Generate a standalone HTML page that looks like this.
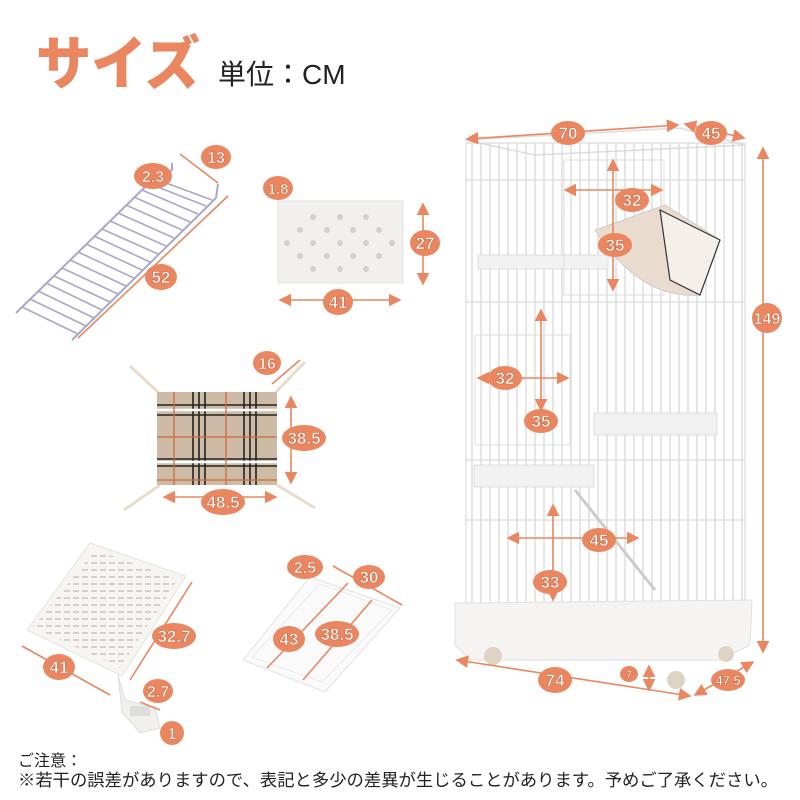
<!DOCTYPE html>
<html><head><meta charset="utf-8"><style>
html,body{margin:0;padding:0;background:#fff;width:800px;height:800px;overflow:hidden}
svg{display:block}
.l{fill:#ea8761}
.t{fill:#fff;font-family:"Liberation Sans",sans-serif;font-weight:bold;text-anchor:middle;stroke:#c96a45;stroke-width:.6}
.d{stroke:#ea8761;stroke-width:1.6;fill:none}
.w{stroke:#dcdcdc;stroke-width:1.2;fill:none}
</style></head><body>
<svg width="800" height="800" viewBox="0 0 800 800" xmlns="http://www.w3.org/2000/svg">
<defs>
<marker id="a" markerWidth="8" markerHeight="8" refX="7" refY="4" orient="auto-start-reverse"><path d="M0,0 L8,4 L0,8 Z" fill="#ea8761"/></marker>
<pattern id="vw" width="9" height="10" patternUnits="userSpaceOnUse"><line x1="4" y1="0" x2="4" y2="10" stroke="#d9d9d9" stroke-width="1.3"/></pattern>
<pattern id="slots" width="9" height="7" patternUnits="userSpaceOnUse"><rect x="1" y="2" width="6" height="2" fill="#d0ccc6"/></pattern>
</defs>

<!-- Title -->
<text x="36" y="84" textLength="164" lengthAdjust="spacingAndGlyphs" font-family="'Liberation Sans','Noto Sans CJK JP',sans-serif" font-weight="900" font-size="58" fill="#ea8761">サイズ</text>
<text x="218" y="84" font-family="'Liberation Sans','Noto Sans CJK JP',sans-serif" font-size="28" fill="#222">単位：CM</text>

<!-- Ladder -->
<g stroke="#a9a8c8" stroke-width="2" fill="none">
<line x1="16" y1="313" x2="146" y2="186"/>
<line x1="72" y1="340" x2="216" y2="198"/>
<path d="M146,186 L172,170 L172,163"/>
<path d="M216,198 L218,184"/>
</g>
<g stroke="#a9a8c8" stroke-width="1.6">
<line x1="22" y1="307" x2="78" y2="334"/><line x1="30" y1="299" x2="86" y2="326"/><line x1="38" y1="291" x2="94" y2="318"/><line x1="46" y1="283" x2="102" y2="310"/><line x1="54" y1="276" x2="110" y2="302"/><line x1="62" y1="268" x2="118" y2="294"/><line x1="70" y1="260" x2="126" y2="286"/><line x1="78" y1="252" x2="134" y2="278"/><line x1="86" y1="244" x2="142" y2="270"/><line x1="94" y1="236" x2="150" y2="262"/><line x1="102" y1="229" x2="158" y2="254"/><line x1="110" y1="221" x2="166" y2="246"/><line x1="118" y1="213" x2="174" y2="238"/><line x1="126" y1="205" x2="182" y2="230"/><line x1="134" y1="197" x2="190" y2="222"/><line x1="142" y1="190" x2="198" y2="214"/><line x1="150" y1="184" x2="206" y2="206"/><line x1="158" y1="180" x2="212" y2="200"/>
</g>
<line class="d" x1="180" y1="154" x2="218" y2="183"/>
<line class="d" x1="78" y1="338" x2="228" y2="196"/>
<ellipse class="l" cx="216" cy="157" rx="15" ry="12"/><text class="t" x="216" y="163" font-size="16">13</text>
<ellipse class="l" cx="153" cy="176" rx="19" ry="13"/><text class="t" x="153" y="182" font-size="16">2.3</text>
<ellipse class="l" cx="161" cy="277" rx="16" ry="13"/><text class="t" x="161" y="283" font-size="17">52</text>

<!-- Panel -->
<rect x="278" y="201" width="125" height="82" fill="#f1f0ee" stroke="#e3e2df"/>
<g fill="#d3d1cd">
<circle cx="313" cy="217" r="3"/><circle cx="340" cy="217" r="3"/><circle cx="366" cy="217" r="3"/>
<circle cx="300" cy="230" r="3"/><circle cx="327" cy="230" r="3"/><circle cx="353" cy="230" r="3"/><circle cx="379" cy="230" r="3"/>
<circle cx="287" cy="243" r="3"/><circle cx="313" cy="243" r="3"/><circle cx="340" cy="243" r="3"/><circle cx="366" cy="243" r="3"/><circle cx="392" cy="243" r="3"/>
<circle cx="300" cy="256" r="3"/><circle cx="327" cy="256" r="3"/><circle cx="353" cy="256" r="3"/><circle cx="379" cy="256" r="3"/>
<circle cx="313" cy="269" r="3"/><circle cx="340" cy="269" r="3"/><circle cx="366" cy="269" r="3"/>
</g>
<line class="d" x1="423" y1="204" x2="423" y2="284" marker-start="url(#a)" marker-end="url(#a)"/>
<line class="d" x1="280" y1="300" x2="400" y2="300" marker-start="url(#a)" marker-end="url(#a)"/>
<ellipse class="l" cx="278" cy="188" rx="15" ry="12"/><text class="t" x="278" y="194" font-size="15">1.8</text>
<ellipse class="l" cx="425" cy="243" rx="15" ry="13"/><text class="t" x="425" y="249" font-size="17">27</text>
<ellipse class="l" cx="338" cy="302" rx="15" ry="13"/><text class="t" x="338" y="308" font-size="17">41</text>

<!-- Hammock -->
<g stroke="#e8dccb" stroke-width="3">
<line x1="130" y1="366" x2="160" y2="394"/><line x1="305" y1="362" x2="274" y2="394"/>
<line x1="124" y1="510" x2="160" y2="485"/><line x1="315" y1="508" x2="277" y2="485"/>
</g>
<rect x="157" y="392" width="120" height="93" fill="#cdbba5"/>
<g stroke="#222" stroke-width="1.6">
<line x1="193" y1="392" x2="193" y2="485"/><line x1="199" y1="392" x2="199" y2="485"/><line x1="205" y1="392" x2="205" y2="485"/>
<line x1="244" y1="392" x2="244" y2="485"/><line x1="250" y1="392" x2="250" y2="485"/><line x1="256" y1="392" x2="256" y2="485"/>
<line x1="157" y1="405" x2="277" y2="405"/><line x1="157" y1="415" x2="277" y2="415"/>
<line x1="157" y1="459" x2="277" y2="459"/><line x1="157" y1="466" x2="277" y2="466"/>
</g>
<g stroke="#fff" stroke-width="2.5"><line x1="157" y1="410" x2="277" y2="410"/><line x1="157" y1="462" x2="277" y2="462"/></g>
<g stroke="#d0683f" stroke-width="1.3">
<line x1="174" y1="392" x2="174" y2="485"/><line x1="226" y1="392" x2="226" y2="485"/>
<line x1="157" y1="437" x2="277" y2="437"/><line x1="157" y1="480" x2="277" y2="480"/>
</g>
<line class="d" x1="272" y1="384" x2="300" y2="360"/>
<line class="d" x1="291" y1="397" x2="291" y2="483" marker-start="url(#a)" marker-end="url(#a)"/>
<line class="d" x1="164" y1="497" x2="276" y2="497" marker-start="url(#a)" marker-end="url(#a)"/>
<ellipse class="l" cx="267" cy="363" rx="14" ry="12"/><text class="t" x="267" y="369" font-size="16">16</text>
<ellipse class="l" cx="304" cy="438" rx="22" ry="13"/><text class="t" x="304" y="444" font-size="17">38.5</text>
<ellipse class="l" cx="223" cy="502" rx="22" ry="13"/><text class="t" x="223" y="508" font-size="17">48.5</text>

<!-- Grid panel -->
<polygon points="90,543 186,576 122,676 27,630" fill="#f7f5f2" stroke="#e6e3de"/>
<polygon points="95,550 178,579 120,668 33,627" fill="url(#slots)" opacity=".9"/>
<path d="M118,675 L125,700 L155,708 L160,728 L140,733 L122,712 Z" fill="#f2f0ed" stroke="#ddd"/>
<rect x="130" y="706" width="20" height="10" fill="#ddd"/>
<line class="d" x1="22" y1="646" x2="110" y2="695"/>
<line class="d" x1="130" y1="680" x2="192" y2="582"/>
<line class="d" x1="140" y1="702" x2="160" y2="710"/>
<ellipse class="l" cx="59" cy="667" rx="16" ry="13"/><text class="t" x="59" y="673" font-size="17">41</text>
<ellipse class="l" cx="174" cy="636" rx="22" ry="13"/><text class="t" x="174" y="642" font-size="17">32.7</text>
<ellipse class="l" cx="158" cy="691" rx="15" ry="12"/><text class="t" x="158" y="697" font-size="16">2.7</text>
<ellipse class="l" cx="172" cy="733" rx="12" ry="12"/><text class="t" x="172" y="739" font-size="16">1</text>

<!-- Tray -->
<polygon points="310,577 400,608 325,692 243,660" fill="#fafafa" stroke="#e2e2e2"/>
<polygon points="320,584 392,610 322,682 252,657" fill="none" stroke="#eaeaea"/>
<line class="d" x1="333" y1="566" x2="402" y2="605"/>
<line class="d" x1="267" y1="668" x2="348" y2="583"/>
<line class="d" x1="303" y1="680" x2="372" y2="600"/>
<ellipse class="l" cx="305" cy="567" rx="18" ry="12"/><text class="t" x="305" y="573" font-size="16">2.5</text>
<ellipse class="l" cx="369" cy="577" rx="16" ry="12"/><text class="t" x="369" y="583" font-size="17">30</text>
<ellipse class="l" cx="289" cy="639" rx="16" ry="13"/><text class="t" x="289" y="645" font-size="17">43</text>
<ellipse class="l" cx="337" cy="634" rx="22" ry="13"/><text class="t" x="337" y="640" font-size="17">38.5</text>

<!-- Cage -->
<polygon points="465,140 680,128 745,145 535,155" fill="none" stroke="#ddd" stroke-width="1.5"/>
<rect x="466" y="143" width="280" height="465" fill="url(#vw)"/>
<g class="w" stroke-width="1.8">
<line x1="466" y1="143" x2="466" y2="610"/><line x1="745" y1="143" x2="745" y2="610"/>
<line x1="466" y1="143" x2="745" y2="143"/>
<line x1="466" y1="180" x2="745" y2="180"/><line x1="466" y1="302" x2="745" y2="302"/>
<line x1="466" y1="460" x2="745" y2="460"/><line x1="466" y1="520" x2="745" y2="520"/>
</g>
<rect x="478" y="255" width="130" height="14" fill="#f2f2f2" stroke="#ddd"/>
<rect x="594" y="413" width="123" height="22" fill="#f2f2f2" stroke="#ddd"/>
<rect x="474" y="465" width="120" height="22" fill="#f2f2f2" stroke="#ddd"/>
<rect x="564" y="160" width="100" height="135" fill="none" stroke="#ddd"/>
<rect x="475" y="335" width="95" height="110" fill="none" stroke="#ddd"/>
<path d="M595,230 Q640,300 700,295 L720,240 L665,205 Z" fill="#e9dccf" stroke="#ccc"/>
<path d="M660,210 L720,240 L700,295 L670,280 Z" fill="#f4efe9" stroke="#333" stroke-width="1.2"/>
<line x1="575" y1="490" x2="655" y2="590" stroke="#ccc" stroke-width="3"/>
<!-- base -->
<path d="M455,603 L752,600 L750,645 L720,660 L470,660 L455,645 Z" fill="#f5f4f3" stroke="#e0e0e0"/>
<circle cx="493" cy="656" r="9" fill="#ded3c4"/><circle cx="676" cy="680" r="9" fill="#ded3c4"/><circle cx="726" cy="654" r="8" fill="#ded3c4"/>
<!-- cage dims -->
<line class="d" x1="467" y1="139" x2="678" y2="125" marker-start="url(#a)" marker-end="url(#a)"/>
<line class="d" x1="685" y1="124" x2="744" y2="138" marker-start="url(#a)" marker-end="url(#a)"/>
<line class="d" x1="763" y1="148" x2="763" y2="652" marker-start="url(#a)" marker-end="url(#a)"/>
<line class="d" x1="565" y1="190" x2="662" y2="190" marker-start="url(#a)" marker-end="url(#a)"/>
<line class="d" x1="613" y1="160" x2="613" y2="290" marker-start="url(#a)" marker-end="url(#a)"/>
<line class="d" x1="478" y1="378" x2="568" y2="378" marker-start="url(#a)" marker-end="url(#a)"/>
<line class="d" x1="541" y1="310" x2="541" y2="410" marker-start="url(#a)" marker-end="url(#a)"/>
<line class="d" x1="508" y1="538" x2="638" y2="538" marker-start="url(#a)" marker-end="url(#a)"/>
<line class="d" x1="553" y1="505" x2="553" y2="600" marker-start="url(#a)" marker-end="url(#a)"/>
<line class="d" x1="457" y1="660" x2="690" y2="696" marker-start="url(#a)" marker-end="url(#a)"/>
<line class="d" x1="649" y1="666" x2="649" y2="690" marker-start="url(#a)" marker-end="url(#a)"/>
<line class="d" x1="695" y1="695" x2="753" y2="662" marker-start="url(#a)" marker-end="url(#a)"/>
<ellipse class="l" cx="568" cy="133" rx="17" ry="12"/><text class="t" x="568" y="139" font-size="17">70</text>
<ellipse class="l" cx="711" cy="133" rx="16" ry="12"/><text class="t" x="711" y="139" font-size="17">45</text>
<ellipse class="l" cx="767" cy="318" rx="15" ry="15"/><text class="t" x="767" y="324" font-size="16">149</text>
<ellipse class="l" cx="632" cy="200" rx="17" ry="12"/><text class="t" x="632" y="206" font-size="17">32</text>
<ellipse class="l" cx="615" cy="245" rx="17" ry="12"/><text class="t" x="615" y="251" font-size="17">35</text>
<ellipse class="l" cx="505" cy="378" rx="17" ry="12"/><text class="t" x="505" y="384" font-size="17">32</text>
<ellipse class="l" cx="541" cy="421" rx="17" ry="12"/><text class="t" x="541" y="427" font-size="17">35</text>
<ellipse class="l" cx="599" cy="540" rx="17" ry="12"/><text class="t" x="599" y="546" font-size="17">45</text>
<ellipse class="l" cx="550" cy="582" rx="17" ry="12"/><text class="t" x="550" y="588" font-size="17">33</text>
<ellipse class="l" cx="555" cy="680" rx="17" ry="13"/><text class="t" x="555" y="686" font-size="17">74</text>
<ellipse class="l" cx="629" cy="674" rx="9" ry="8"/><text class="t" x="629" y="678" font-size="11">7</text>
<ellipse class="l" cx="728" cy="680" rx="17" ry="11"/><text class="t" x="728" y="685" font-size="13">47.5</text>

<!-- Notes -->
<text x="18" y="766" font-family="'Liberation Sans','Noto Sans CJK JP',sans-serif" font-size="16" fill="#222">ご注意：</text>
<text x="18" y="786" textLength="760" lengthAdjust="spacingAndGlyphs" font-family="'Liberation Sans','Noto Sans CJK JP',sans-serif" font-size="17" fill="#222">※若干の誤差がありますので、表記と多少の差異が生じることがあります。予めご了承ください。</text>
</svg>
</body></html>
